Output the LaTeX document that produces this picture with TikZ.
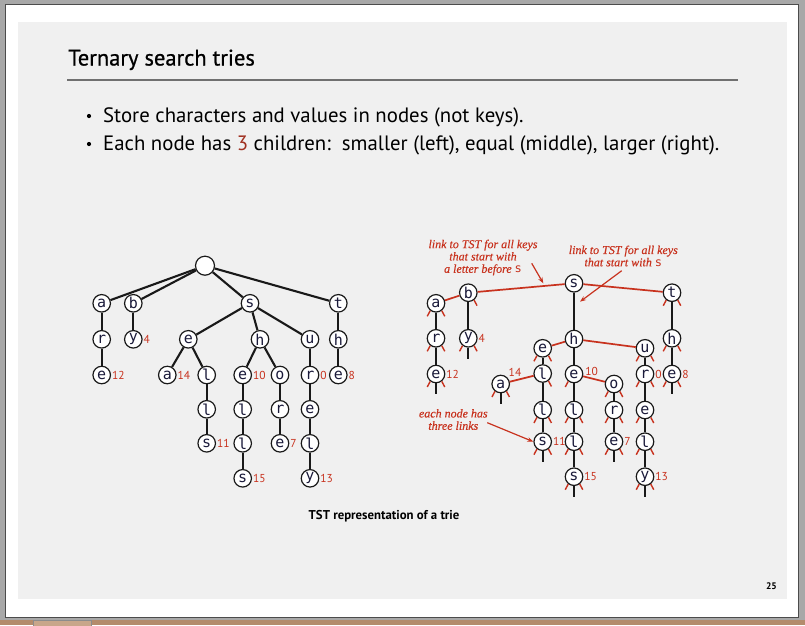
\documentclass[tikz,border=0pt]{standalone}
\usepackage{fontspec}
\setmainfont{PT Sans}
\newfontfamily\titlef{PT Sans}[FakeBold=0.7]
\newfontfamily\monof{DejaVu Sans Mono}
\newfontfamily\annf{Liberation Serif}[FakeBold=0.3]
\usetikzlibrary{arrows.meta}
\definecolor{outergray}{HTML}{A8A8A8}
\definecolor{brownish}{HTML}{B48C6C}
\definecolor{tabbrown}{HTML}{C8A68A}
\definecolor{panel}{HTML}{F0F0F0}
\definecolor{tstred}{HTML}{C8321E}
\definecolor{darkred}{HTML}{A03020}
\definecolor{letter}{HTML}{1A1A3A}
\definecolor{rulegray}{HTML}{707070}
\newcommand\lst[1]{\draw[stubr] (#1.232) -- ++(-3,5.6);}
\newcommand\rst[1]{\draw[stubr] (#1.308) -- ++(3,5.6);}
\newcommand\mst[1]{\draw[edge] (#1.south) -- ++(0,11);}
\begin{document}
\begin{tikzpicture}[x=1pt,y=-1pt,
  tn/.style={circle,draw=black!90,fill=white,line width=1.2pt,inner sep=0pt,minimum size=17.5pt,
    font=\monof\fontsize{15}{15}\selectfont,text=letter},
  rootn/.style={tn,minimum size=19pt},
  edge/.style={line width=2.1pt,draw=black!90},
  redge/.style={line width=1.7pt,draw=tstred},
  stubr/.style={line width=1.4pt,draw=tstred},
  val/.style={font=\fontsize{11.5}{11.5}\selectfont,text=tstred,inner sep=0.8pt,anchor=west},
  ann/.style={font=\annf\itshape\fontsize{12}{12.3}\selectfont,text=tstred,align=center,inner sep=0pt},
  annarrow/.style={line width=1.2pt,draw=tstred,-{Stealth[length=6pt,width=4.5pt]}}]
\useasboundingbox (0,0) rectangle (805,625);
% frame
\fill[outergray] (0,0) rectangle (805,625);
\fill[brownish] (0,619.5) rectangle (805,625);
\draw[fill=tabbrown,draw=black!45,line width=0.6pt] (33,620.5) rectangle (91,626);
\draw[fill=white,draw=black!70,line width=1pt] (5,4) rectangle (798,617);
\fill[panel] (18,22) rectangle (787,599);
% title and bullets
\node[anchor=base west,inner sep=0pt,font=\titlef\fontsize{22.5}{22.5}\selectfont] (title) at (68,65.5) {Ternary search tries};
\draw[rulegray,line width=1.5pt] (67,80) -- (738,80);
\node[anchor=base west,inner sep=0pt,font=\fontsize{20.8}{20.8}\selectfont] (b1) at (103,122.5) {Store characters and values in nodes (not keys).};
\node[anchor=base west,inner sep=0pt,font=\fontsize{20.8}{20.8}\selectfont] (b2) at (103,150.5) {Each node has {\color{darkred}3} children:\ \ smaller (left), equal (middle), larger (right).};
\fill[black] (89,116) circle (2.1pt);
\fill[black] (89,144) circle (2.1pt);
% ---------- left trie ----------
\node[rootn] (L0) at (205,265.7) {};
\node[tn] (La) at (101.7,303.3) {a};
\node[tn] (Lb) at (133.3,303.3) {b};
\node[tn] (Ls) at (250,303.3) {s};
\node[tn] (Lt) at (338.3,303.3) {t};
\node[tn] (Lar) at (101.7,339.3) {r};
\node[tn] (Lby) at (133.3,339.3) {y};
\node[tn] (Lse) at (188.3,339.3) {e};
\node[tn] (Lsh) at (260,339.3) {h};
\node[tn] (Lsu) at (310,339.3) {u};
\node[tn] (Lth) at (338.3,339.3) {h};
\node[tn] (Lare) at (101.7,375) {e};
\node[tn] (Lsea) at (167.3,375) {a};
\node[tn] (Lsel) at (206.7,375) {l};
\node[tn] (Lshe) at (242.7,375) {e};
\node[tn] (Lsho) at (280,375) {o};
\node[tn] (Lsur) at (310,375) {r};
\node[tn] (Lthe) at (338.3,375) {e};
\node[tn] (Lsell) at (206.7,409.3) {l};
\node[tn] (Lshel) at (242.7,409.3) {l};
\node[tn] (Lshor) at (280,409.3) {r};
\node[tn] (Lsure) at (310,409.3) {e};
\node[tn] (Lsells) at (206.7,443.3) {s};
\node[tn] (Lshell) at (242.7,443.3) {l};
\node[tn] (Lshore) at (280,443.3) {e};
\node[tn] (Lsurel) at (310,443.3) {l};
\node[tn] (Lshells) at (242.7,478.3) {s};
\node[tn] (Lsurely) at (310,478.3) {y};
\draw[edge] (L0) -- (La); \draw[edge] (L0) -- (Lb); \draw[edge] (L0) -- (Ls); \draw[edge] (L0) -- (Lt);
\draw[edge] (La) -- (Lar); \draw[edge] (Lar) -- (Lare); \draw[edge] (Lb) -- (Lby);
\draw[edge] (Ls) -- (Lse); \draw[edge] (Ls) -- (Lsh); \draw[edge] (Ls) -- (Lsu);
\draw[edge] (Lt) -- (Lth); \draw[edge] (Lth) -- (Lthe);
\draw[edge] (Lse) -- (Lsea); \draw[edge] (Lse) -- (Lsel); \draw[edge] (Lsel) -- (Lsell); \draw[edge] (Lsell) -- (Lsells);
\draw[edge] (Lsh) -- (Lshe); \draw[edge] (Lsh) -- (Lsho);
\draw[edge] (Lshe) -- (Lshel); \draw[edge] (Lshel) -- (Lshell); \draw[edge] (Lshell) -- (Lshells);
\draw[edge] (Lsho) -- (Lshor); \draw[edge] (Lshor) -- (Lshore);
\draw[edge] (Lsu) -- (Lsur); \draw[edge] (Lsur) -- (Lsure); \draw[edge] (Lsure) -- (Lsurel); \draw[edge] (Lsurel) -- (Lsurely);
\node[val] (vLby) at (Lby.east) {4};
\node[val] (vLare) at (Lare.east) {12};
\node[val] (vLsea) at (Lsea.east) {14};
\node[val] (vLshe) at (Lshe.east) {10};
\node[val] (vLsur) at (Lsur.east) {0};
\node[val] (vLthe) at (Lthe.east) {8};
\node[val] (vLsells) at (Lsells.east) {11};
\node[val] (vLshore) at (Lshore.east) {7};
\node[val] (vLshells) at (Lshells.east) {15};
\node[val] (vLsurely) at (Lsurely.east) {13};
% ---------- right TST ----------
\node[tn] (Rs) at (574,283.3) {s};
\node[tn] (Rb) at (468.3,292.7) {b};
\node[tn] (Ra) at (436,303.3) {a};
\node[tn] (Rt) at (672,292.7) {t};
\node[tn] (Rr) at (436,338.3) {r};
\node[tn] (Ry) at (468.3,338.3) {y};
\node[tn] (Rh) at (574,339) {h};
\node[tn] (Re) at (542.7,348.3) {e};
\node[tn] (Ru) at (645,348.3) {u};
\node[tn] (Rth) at (672,338.3) {h};
\node[tn] (Re12) at (436,374) {e};
\node[tn] (Rl1) at (542.7,373.5) {l};
\node[tn] (Ra14) at (500.7,384) {a};
\node[tn] (Re10) at (574,374) {e};
\node[tn] (Ro) at (614,384) {o};
\node[tn] (Rr0) at (645,374) {r};
\node[tn] (Re8) at (672,374) {e};
\node[tn] (Rl2) at (542.7,410) {l};
\node[tn] (Rl3) at (574,410) {l};
\node[tn] (Rr2) at (614,410) {r};
\node[tn] (Re2) at (645,410) {e};
\node[tn] (Rs11) at (542.7,441.7) {s};
\node[tn] (Rl4) at (574,441.7) {l};
\node[tn] (Re7) at (614,441.7) {e};
\node[tn] (Rl5) at (645,441.7) {l};
\node[tn] (Rs15) at (574,476.7) {s};
\node[tn] (Ry13) at (645,476.7) {y};
% red links
\draw[redge] (Rs) -- (Rb); \draw[redge] (Rb) -- (Ra); \draw[redge] (Rs) -- (Rt);
\draw[redge] (Rh) -- (Re); \draw[redge] (Rh) -- (Ru);
\draw[redge] (Rl1) -- (Ra14); \draw[redge] (Re10) -- (Ro);
% middle links
\draw[edge] (Rs) -- (Rh); \draw[edge] (Rh) -- (Re10);
\draw[edge] (Ra) -- (Rr); \draw[edge] (Rr) -- (Re12); \draw[edge] (Rb) -- (Ry);
\draw[edge] (Rt) -- (Rth); \draw[edge] (Rth) -- (Re8);
\draw[edge] (Re) -- (Rl1); \draw[edge] (Rl1) -- (Rl2); \draw[edge] (Rl2) -- (Rs11);
\draw[edge] (Re10) -- (Rl3); \draw[edge] (Rl3) -- (Rl4); \draw[edge] (Rl4) -- (Rs15);
\draw[edge] (Ro) -- (Rr2); \draw[edge] (Rr2) -- (Re7);
\draw[edge] (Ru) -- (Rr0); \draw[edge] (Rr0) -- (Re2); \draw[edge] (Re2) -- (Rl5); \draw[edge] (Rl5) -- (Ry13);
% null-link stubs
\rst{Rb}
\lst{Ra}\rst{Ra}
\lst{Rr}\rst{Rr}
\lst{Re12}\rst{Re12}\mst{Re12}
\lst{Ry}\rst{Ry}\mst{Ry}
\lst{Rt}\rst{Rt}
\lst{Rth}\rst{Rth}
\lst{Re8}\rst{Re8}\mst{Re8}
\lst{Re}\rst{Re}
\rst{Rl1}
\lst{Ra14}\rst{Ra14}\mst{Ra14}
\lst{Rl2}\rst{Rl2}
\lst{Rs11}\rst{Rs11}\mst{Rs11}
\lst{Re10}
\lst{Rl3}\rst{Rl3}
\lst{Rl4}\rst{Rl4}
\lst{Rs15}\rst{Rs15}\mst{Rs15}
\lst{Ro}\rst{Ro}
\lst{Rr2}\rst{Rr2}
\lst{Re7}\rst{Re7}\mst{Re7}
\lst{Ru}\rst{Ru}
\lst{Rr0}\rst{Rr0}
\lst{Re2}\rst{Re2}
\lst{Rl5}\rst{Rl5}
\lst{Ry13}\rst{Ry13}\mst{Ry13}
% values
\node[val] (vRy) at (Ry.east) {4};
\node[val] (vRe12) at (Re12.east) {12};
\node[val,anchor=center] (vRa14) at (515,372.7) {14};
\node[val,anchor=center] (vRe10) at (591.7,371.7) {10};
\node[val] (vRr0) at (Rr0.east) {0};
\node[val] (vRe8) at (Re8.east) {8};
\node[val] (vRs11) at (Rs11.east) {11};
\node[val] (vRe7) at (Re7.east) {7};
\node[val] (vRs15) at (Rs15.east) {15};
\node[val] (vRy13) at (Ry13.east) {13};
% annotations
\node[ann] (ann1) at (483,257.5) {link to TST for all keys\\that start with\\a letter before {\upshape\monof s}};
\coordinate (a1s) at (531.7,263.3);
\coordinate (a1e) at (543.3,283.3);
\draw[annarrow] (a1s) -- (a1e);
\node[ann] (ann2) at (623.3,256) {link to TST for all keys\\that start with {\upshape\monof s}};
\coordinate (a2s) at (621.7,270.7);
\coordinate (a2e) at (580,301.7);
\draw[annarrow] (a2s) -- (a2e);
\node[ann] (ann3) at (453.3,419.5) {each node has\\three links};
\coordinate (a3s) at (487.3,422.7);
\draw[annarrow] (a3s) -- (Rs11.west);
% caption and page number
\node[anchor=base west,inner sep=0pt,font=\bfseries\fontsize{12.8}{12.8}\selectfont] (cap) at (308.5,519.5) {TST representation of a trie};
\node[anchor=base east,inner sep=0pt,font=\bfseries\fontsize{9.5}{9.5}\selectfont] (pg) at (777,589.5) {25};
\end{tikzpicture}
\end{document}
